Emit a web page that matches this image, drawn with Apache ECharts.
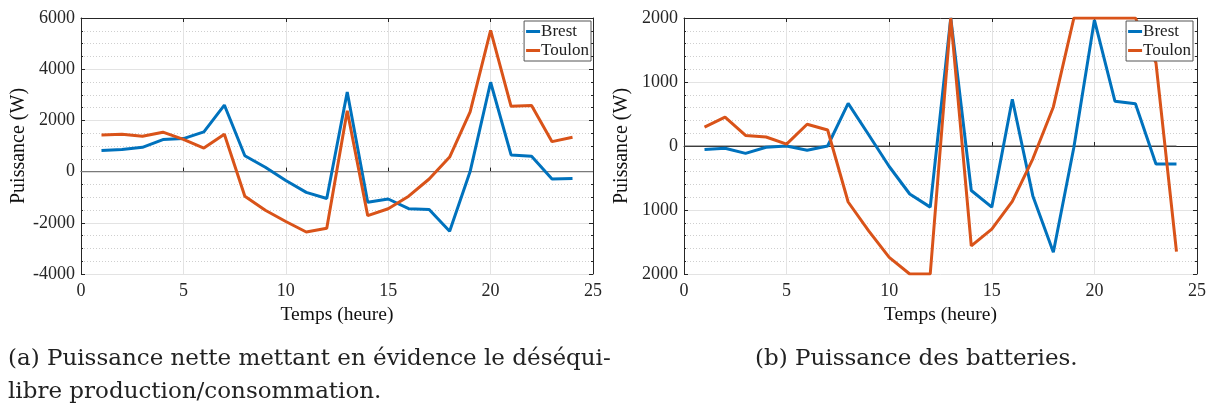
<!DOCTYPE html>
<html>
<head>
<meta charset="utf-8">
<script src="https://cdn.jsdelivr.net/npm/echarts@6/dist/echarts.min.js"></script>
<style>
  html, body { margin: 0; padding: 0; background: #fff; }
  #main { width: 1216px; height: 407px; }
</style>
</head>
<body>
<div id="main"></div>
<script>
// heures de la journée
var hours = [1, 2, 3, 4, 5, 6, 7, 8, 9, 10, 11, 12, 13, 14, 15, 16, 17, 18, 19, 20, 21, 22, 23, 24];
// (a) puissance nette (W)
var netBrest  = [820, 860, 950, 1250, 1290, 1550, 2600, 620, 170, -350, -810, -1050, 3110, -1200, -1070, -1450, -1480, -2330, 0, 3490, 650, 600, -290, -270];
var netToulon = [1430, 1460, 1380, 1540, 1260, 920, 1460, -960, -1510, -1950, -2360, -2210, 2380, -1720, -1450, -960, -290, 570, 2330, 5520, 2550, 2580, 1170, 1340];
// (b) puissance des batteries (W)
var battBrest  = [-55, -35, -115, -20, 0, -65, 0, 665, 175, -320, -750, -955, 2000, -695, -955, 730, -780, -1660, -20, 1970, 700, 660, -280, -280];
var battToulon = [295, 450, 165, 140, 30, 340, 250, -875, -1325, -1740, -2000, -2000, 2000, -1560, -1300, -865, -200, 610, 2000, 2000, 2000, 2000, 1300, -1650];
// graduations
var xTicks = [0, 5, 10, 15, 20, 25];
var netYTicks = [-4000, -2000, 0, 2000, 4000, 6000];
var battYTicks = [-2000, -1000, 0, 1000, 2000];

var FONT = 'Liberation Serif';
var CAPFONT = 'DejaVu Serif';
var BLUE = '#0072BD', ORANGE = '#D95319';

function pairs(xs, ys) {
    var out = [];
    for (var i = 0; i < xs.length; i++) out.push([xs[i], ys[i]]);
    return out;
}

var grids = [
    { left: 81, right: 623, top: 18, bottom: 133 },
    { left: 684, right: 19, top: 18, bottom: 133 }
];

var yRanges = [
    { min: netYTicks[0], max: netYTicks[netYTicks.length - 1], interval: 2000, minor: 4, fmt: function (v) { return String(v); } },
    { min: battYTicks[0], max: battYTicks[battYTicks.length - 1], interval: 1000, minor: 5, fmt: function (v) { return String(Math.abs(v)); } }
];

var xAxis = [], yAxis = [], series = [], legend = [];
grids.forEach(function (g, k) {
    // axe du bas
    xAxis.push({
        gridIndex: k, type: 'value', min: xTicks[0], max: xTicks[xTicks.length - 1], interval: 5,
        name: 'Temps (heure)', nameLocation: 'middle', nameGap: 30,
        nameTextStyle: { fontFamily: FONT, fontSize: 19.5, color: '#111' },
        axisLine: { show: true, lineStyle: { color: '#262626', width: 1 } },
        axisTick: { show: true, inside: true, length: 4, lineStyle: { color: '#262626' } },
        axisLabel: { fontFamily: FONT, fontSize: 18, color: '#262626', margin: 8 },
        splitLine: { show: true, lineStyle: { color: '#e3e3e3', width: 1 } }
    });
    // axe du haut (boîte)
    xAxis.push({
        gridIndex: k, type: 'value', position: 'top', min: xTicks[0], max: xTicks[xTicks.length - 1], interval: 5,
        axisLine: { show: true, onZero: false, lineStyle: { color: '#262626', width: 1 } },
        axisTick: { show: true, inside: true, length: 4, lineStyle: { color: '#262626' } },
        axisLabel: { show: false }, splitLine: { show: false }
    });
    var r = yRanges[k];
    yAxis.push({
        gridIndex: k, type: 'value', min: r.min, max: r.max, interval: r.interval,
        name: 'Puissance (W)', nameLocation: 'middle', nameGap: 52,
        nameTextStyle: { fontFamily: FONT, fontSize: 20, color: '#111' },
        axisLine: { show: true, onZero: false, lineStyle: { color: '#262626', width: 1 } },
        axisTick: { show: true, inside: true, length: 4, lineStyle: { color: '#262626' } },
        minorTick: { show: true, splitNumber: r.minor, length: 2, lineStyle: { color: '#262626' } },
        axisLabel: { fontFamily: FONT, fontSize: 18, color: '#262626', margin: 6, formatter: r.fmt },
        splitLine: { show: true, lineStyle: { color: '#e3e3e3', width: 1 } },
        minorSplitLine: { show: true, lineStyle: { color: '#cfcfcf', width: 1, type: [1, 2] } }
    });
    yAxis.push({
        gridIndex: k, type: 'value', position: 'right', min: r.min, max: r.max, interval: r.interval,
        axisLine: { show: true, onZero: false, lineStyle: { color: '#262626', width: 1 } },
        axisTick: { show: true, inside: true, length: 4, lineStyle: { color: '#262626' } },
        minorTick: { show: true, splitNumber: r.minor, length: 2, lineStyle: { color: '#262626' } },
        axisLabel: { show: false }, splitLine: { show: false }
    });
});

// ligne du zéro
series.push({ type: 'line', xAxisIndex: 0, yAxisIndex: 0, data: [[0, 0], [25, 0]], symbol: 'none', silent: true,
    lineStyle: { color: '#7a7a7a', width: 1.2 }, z: 1 });
series.push({ type: 'line', xAxisIndex: 2, yAxisIndex: 2, data: [[0, 0], [24, 0]], symbol: 'none', silent: true,
    lineStyle: { color: '#555', width: 1 }, z: 1 });

var sets = [[netBrest, netToulon], [battBrest, battToulon]];
sets.forEach(function (s, k) {
    series.push({ name: 'Brest', type: 'line', xAxisIndex: 2 * k, yAxisIndex: 2 * k, data: pairs(hours, s[0]),
        symbol: 'none', lineStyle: { color: BLUE, width: 3 }, itemStyle: { color: BLUE }, z: 3 });
    series.push({ name: 'Toulon', type: 'line', xAxisIndex: 2 * k, yAxisIndex: 2 * k, data: pairs(hours, s[1]),
        symbol: 'none', lineStyle: { color: ORANGE, width: 3 }, itemStyle: { color: ORANGE }, z: 3 });
});

[625, 23].forEach(function (rt) {
    legend.push({
        data: ['Brest', 'Toulon'], orient: 'vertical', right: rt, top: 21,
        backgroundColor: '#fff', borderColor: '#555', borderWidth: 1, borderRadius: 0,
        padding: [2, 2, 2, 2], itemGap: 2, itemWidth: 14, itemHeight: 3, icon: 'rect',
        textStyle: { fontFamily: FONT, fontSize: 17, color: '#222', padding: [0, 0, 0, -4] },
        selectedMode: false
    });
});

var myChart = echarts.init(document.getElementById('main'));
myChart.setOption({
    animation: false,
    backgroundColor: '#fff',
    grid: grids,
    xAxis: xAxis,
    yAxis: yAxis,
    legend: legend,
    series: series,
    title: [
        { text: '(a) Puissance nette mettant en évidence le déséqui-\nlibre production/consommation.', left: 3, top: 338,
          textStyle: { fontFamily: CAPFONT, fontSize: 23, fontWeight: 'normal', color: '#222', lineHeight: 33 } },
        { text: '(b) Puissance des batteries.', left: 750, top: 338,
          textStyle: { fontFamily: CAPFONT, fontSize: 23, fontWeight: 'normal', color: '#222', lineHeight: 33 } }
    ]
});
</script>
</body>
</html>
